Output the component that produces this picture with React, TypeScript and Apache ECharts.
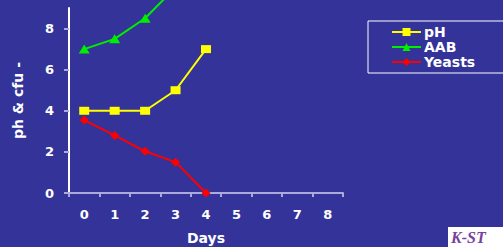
import React, { useEffect, useRef } from "react";
import * as echarts from "echarts";

const days = ["0", "1", "2", "3", "4", "5", "6", "7", "8"];
const phValues = [4, 4, 4, 5, 7];
const aabValues = [7, 7.5, 8.5, 10, 11];
const yeastValues = [3.55, 2.8, 2.03, 1.5, 0];
const yTicks = [0, 2, 4, 6, 8];

const FONT = "DejaVu Sans, Verdana, sans-serif";

export default function App() {
  const ref = useRef<HTMLDivElement>(null);
  useEffect(() => {
    const chart = echarts.init(ref.current!, null, { renderer: "svg" });
    chart.setOption({
      animation: false,
      backgroundColor: "#333399",
      textStyle: { fontFamily: FONT },
      grid: { left: 69, right: 160, top: 8, bottom: 54, outerBoundsMode: "none", containLabel: false },
      legend: {
        left: 368,
        top: 21,
        orient: "vertical",
        borderColor: "#ffffff",
        borderWidth: 1,
        padding: [4, 40, 4, 23],
        itemGap: 1,
        itemWidth: 29,
        itemHeight: 10,
        textStyle: { color: "#ffffff", fontSize: 14, lineHeight: 14, fontWeight: "bold", fontFamily: FONT, padding: [0, 0, 0, -2] },
        data: ["pH", "AAB", "Yeasts"],
      },
      xAxis: {
        type: "category",
        data: days,
        boundaryGap: true,
        name: "Days",
        nameLocation: "middle",
        nameGap: 38,
        nameTextStyle: { color: "#ffffff", fontSize: 14, fontWeight: "bold", fontFamily: FONT },
        axisLine: { lineStyle: { color: "#aaaadd", width: 2 } },
        axisTick: { show: true, length: 4, lineStyle: { color: "#aaaadd", width: 2 } },
        axisLabel: { color: "#ffffff", fontSize: 13, fontWeight: "bold", margin: 15, fontFamily: FONT },
        splitLine: { show: false },
      },
      yAxis: {
        type: "value",
        min: 0,
        max: 9,
        interval: 2,
        name: "ph & cfu -",
        nameLocation: "middle",
        nameGap: 44,
        nameRotate: 90,
        nameTextStyle: { color: "#ffffff", fontSize: 14, fontWeight: "bold", fontFamily: FONT },
        axisLine: { show: true, lineStyle: { color: "#ffffff", width: 2 } },
        axisTick: { show: true, length: 5, customValues: yTicks, lineStyle: { color: "#aaaadd", width: 2 } },
        axisLabel: { color: "#ffffff", fontSize: 13, fontWeight: "bold", margin: 15, customValues: yTicks, fontFamily: FONT },
        splitLine: { show: false },
      },
      series: [
        {
          name: "pH",
          type: "line",
          data: phValues,
          symbol: "rect",
          symbolSize: [10, 8],
          itemStyle: { color: "#ffff00" },
          lineStyle: { color: "#ffff00", width: 2 },
        },
        {
          name: "AAB",
          type: "line",
          data: aabValues,
          clip: false,
          symbol: "triangle",
          symbolSize: [11, 9],
          itemStyle: { color: "#00ee00" },
          lineStyle: { color: "#00ee00", width: 2 },
        },
        {
          name: "Yeasts",
          type: "line",
          data: yeastValues,
          symbol: "diamond",
          symbolSize: 9,
          itemStyle: { color: "#ff0000" },
          lineStyle: { color: "#ff0000", width: 2 },
        },
      ],
      graphic: [
        { type: "rect", left: 448, top: 227, shape: { width: 60, height: 22 }, style: { fill: "#ffffff" } },
        {
          type: "text",
          left: 451,
          top: 229,
          style: { text: "K-ST", fill: "#7a3fa0", font: "italic bold 16px Liberation Serif, serif" },
        },
      ],
    });
    return () => chart.dispose();
  }, []);
  return <div ref={ref} style={{ width: 503, height: 247, position: "fixed", left: 0, top: 0 }} />;
}
